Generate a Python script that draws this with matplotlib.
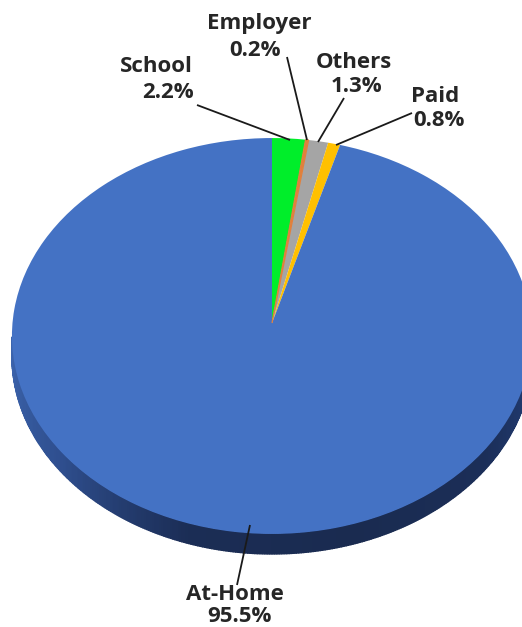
import numpy as np
import matplotlib
matplotlib.use('Agg')
import matplotlib.pyplot as plt
from matplotlib.path import Path
from matplotlib.transforms import Transform
from matplotlib.colors import LinearSegmentedColormap

# data, clockwise from 12 o'clock
categories = ['School', 'Employer', 'Others', 'Paid', 'At-Home']
shares = [2.2, 0.2, 1.3, 0.8, 95.5]
colors = ['#00ee2a', '#e0803c', '#a5a5a5', '#ffc000', '#4472c4']

# where the pie sits, in pixels
cx, apex_y = 272, 323
half_w, half_h, persp = 259.5, 197.1, 0.0657
depth = 20


class Tilt(Transform):
    # unit pie -> tilted pie, the near side is drawn bigger
    input_dims = output_dims = 2

    def transform_non_affine(self, xy):
        xy = np.asarray(xy, dtype=float)
        w = 1 + persp * xy[:, 1]
        return np.column_stack([cx + half_w * xy[:, 0] / w, apex_y - half_h * xy[:, 1] / w])

    def transform_path_non_affine(self, path):
        return Path(self.transform_non_affine(path.vertices), path.codes)


fig = plt.figure(figsize=(5.22, 6.27), dpi=100)
ax = fig.add_axes([0, 0, 1, 1])

wedges, _ = ax.pie(shares, colors=colors, startangle=90, counterclock=False, radius=1)
ax.set_aspect('auto')
ax.set_xlim(0, 522)
ax.set_ylim(627, 0)

tilt = Tilt()

# side wall, one thin slice per step so the shade can run along the rim
# starts at the widest point of the ellipse, not at the apex height
wall = LinearSegmentedColormap.from_list('wall', ['#3d66b0', '#2f4f8f', '#1b2d55', '#1a2b50', '#1b2e58', '#24407a'])
t = np.radians(np.linspace(184, 356, 345))
rim = tilt.transform_non_affine(np.column_stack([np.cos(t), np.sin(t)]))
for i in range(len(t) - 1):
    a, b = rim[i], rim[i + 1]
    f = i / (len(t) - 2)
    ax.fill([a[0], b[0], b[0], a[0]], [a[1], b[1], b[1] + depth, a[1] + depth],
            color=wall(f), lw=1.0, zorder=1)

for w, c in zip(wedges, colors):
    w.set_transform(tilt + ax.transData)
    w.set_zorder(2)
    w.set_edgecolor('none')
# the thinnest slice needs an outline to stay visible
wedges[1].set_edgecolor(colors[1])
wedges[1].set_linewidth(0.9)
wedges[1].set_zorder(2.5)

# leader lines
leaders = [((197, 105), (290, 140)), ((287, 57), (307, 140)), ((344, 98), (318, 142)),
           ((412, 113), (336, 145)), ((250, 525), (237, 585))]
for (x0, y0), (x1, y1) in leaders:
    ax.plot([x0, x1], [y0, y1], color='#1a1a1a', lw=1.3, zorder=3, solid_capstyle='butt')

name_pos = [(156, 66), (259, 24), (354, 62), (435, 97), (235, 595)]
pct_pos = [(168, 93), (255, 51), (356, 86), (439, 120), (239, 616)]
for name, share, p, q in zip(categories, shares, name_pos, pct_pos):
    ax.text(p[0], p[1], name, ha='center', va='center', fontsize=16, fontweight='bold',
            family='Open Sans', color='#262626', zorder=4)
    ax.text(q[0], q[1], f'{share}%', ha='center', va='center', fontsize=16, fontweight='bold',
            family='Open Sans', color='#262626', zorder=4)

fig.savefig('out.png', dpi=100)
